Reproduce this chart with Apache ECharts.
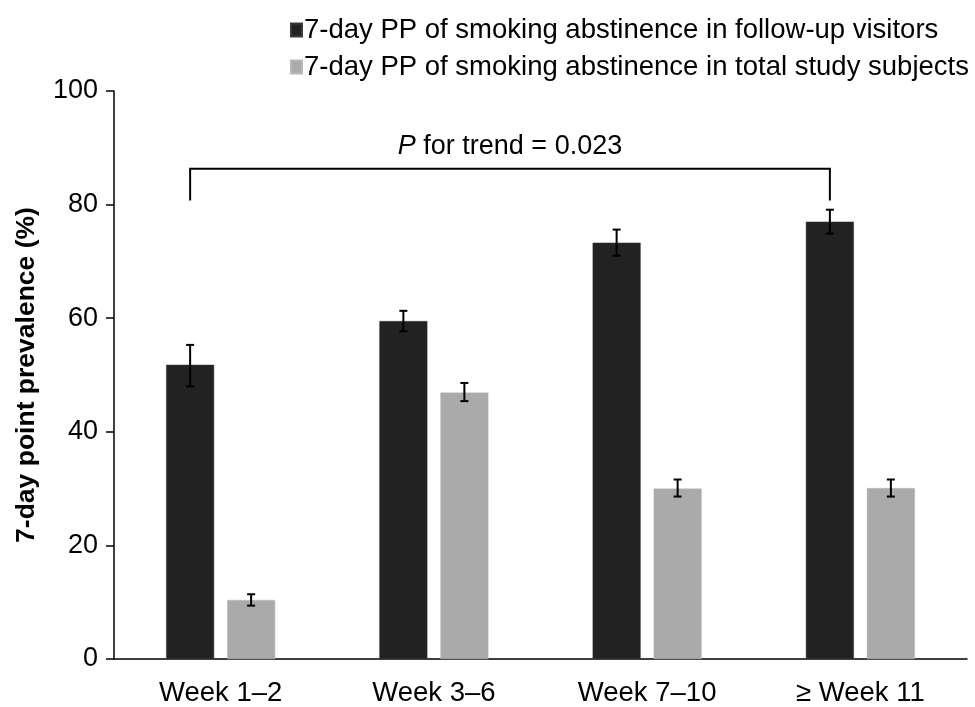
<!DOCTYPE html>
<html><head><meta charset="utf-8">
<script src="https://cdn.jsdelivr.net/npm/echarts@6/dist/echarts.min.js"></script>
<style>html,body{margin:0;padding:0;background:#fff}#c{width:975px;height:707px}</style>
</head><body><div id="c"></div>
<script>
const categories = ['Week 1\u20132', 'Week 3\u20136', 'Week 7\u201310', '\u2265 Week 11'];
const seriesNames = ['7-day PP of smoking abstinence in follow-up visitors', '7-day PP of smoking abstinence in total study subjects'];
const followUp = [51.8, 59.5, 73.3, 77.0];
const followUpLow = [48.0, 57.7, 71.0, 74.9];
const followUpHigh = [55.3, 61.3, 75.6, 79.1];
const total = [10.4, 46.9, 30.0, 30.1];
const totalLow = [9.4, 45.4, 28.6, 28.6];
const totalHigh = [11.4, 48.6, 31.6, 31.6];
const yTicks = [0, 20, 40, 60, 80, 100];
const trendFrom = 0, trendTo = 3, trendBase = 80.7, trendTop = 86.3;
const trendLabel = 'P for trend = 0.023';

const BAR_W = 48, GAP = 13, OFF = (BAR_W + GAP) / 2;
const FONT = 'Liberation Sans, Arial, sans-serif';

function errSeries(low, high, offset) {
  return {
    type: 'custom', silent: true, z: 10,
    data: categories.map((c, i) => [i, low[i], high[i]]),
    renderItem: function (params, api) {
      const lo = api.coord([api.value(0), api.value(1)]);
      const hi = api.coord([api.value(0), api.value(2)]);
      const x = lo[0] + offset, cw = 4;
      const st = { stroke: '#000', lineWidth: 2 };
      return { type: 'group', children: [
        { type: 'line', shape: { x1: x, y1: lo[1], x2: x, y2: hi[1] }, style: st },
        { type: 'line', shape: { x1: x - cw, y1: lo[1], x2: x + cw, y2: lo[1] }, style: st },
        { type: 'line', shape: { x1: x - cw, y1: hi[1], x2: x + cw, y2: hi[1] }, style: st }
      ]};
    }
  };
}

const chart = echarts.init(document.getElementById('c'));
chart.setOption({
  animation: false,
  textStyle: { fontFamily: FONT, color: '#000' },
  grid: { left: 114, right: 8, top: 91, bottom: 46 },
  legend: {
    orient: 'vertical', left: 285, top: 11, itemGap: 9,
    icon: 'rect', itemWidth: 11, itemHeight: 13,
    textStyle: { fontSize: 27.5, color: '#000', fontFamily: FONT, padding: [0, 0, 0, -3] },
    data: seriesNames
  },
  xAxis: {
    type: 'category', data: categories,
    axisLine: { lineStyle: { color: '#000', width: 1.5 } },
    axisTick: { alignWithLabel: true, length: 8, lineStyle: { color: '#000', width: 1.5 } },
    axisLabel: { fontSize: 27.5, color: '#000', margin: 20, fontFamily: FONT }
  },
  yAxis: {
    type: 'value', min: yTicks[0], max: yTicks[yTicks.length - 1], interval: 20,
    name: '7-day point prevalence (%)', nameLocation: 'middle', nameGap: 74,
    nameTextStyle: { fontSize: 26.5, fontWeight: 'bold', color: '#000', fontFamily: FONT },
    axisLine: { show: true, lineStyle: { color: '#000', width: 1.5 } },
    axisTick: { show: true, length: 8, lineStyle: { color: '#000', width: 1.5 } },
    axisLabel: { fontSize: 27, color: '#000', margin: 16, fontFamily: FONT },
    splitLine: { show: false }
  },
  series: [
    { name: seriesNames[0], type: 'bar', data: followUp, barWidth: BAR_W, barGap: (GAP / BAR_W * 100) + '%',
      itemStyle: { color: '#222222', borderColor: '#3a3a3a', borderWidth: 0.5 } },
    { name: seriesNames[1], type: 'bar', data: total, barWidth: BAR_W,
      itemStyle: { color: '#aaaaaa', borderColor: '#b8b8b8', borderWidth: 0.5 } },
    errSeries(followUpLow, followUpHigh, -OFF),
    errSeries(totalLow, totalHigh, OFF),
    {
      type: 'custom', silent: true, z: 10,
      data: [[trendFrom, trendTo, trendBase, trendTop]],
      renderItem: function (params, api) {
        const a = api.coord([api.value(0), api.value(2)]);
        const b = api.coord([api.value(1), api.value(2)]);
        const t = api.coord([api.value(0), api.value(3)]);
        const x1 = a[0] - OFF, x2 = b[0] - OFF, yb = a[1], yt = t[1];
        const st = { stroke: '#000', lineWidth: 2, fill: null };
        const parts = trendLabel.split(' ');
        return { type: 'group', children: [
          { type: 'polyline', shape: { points: [[x1, yb], [x1, yt], [x2, yt], [x2, yb]] }, style: st },
          { type: 'text', x: (x1 + x2) / 2, y: yt - 9,
            style: { text: '{i|' + parts[0] + '} ' + parts.slice(1).join(' '), textAlign: 'center', textVerticalAlign: 'bottom',
              font: '27px ' + FONT, fill: '#000',
              rich: { i: { fontStyle: 'italic', fontSize: 27, fontFamily: FONT } } } }
        ]};
      }
    }
  ]
});
</script></body></html>
